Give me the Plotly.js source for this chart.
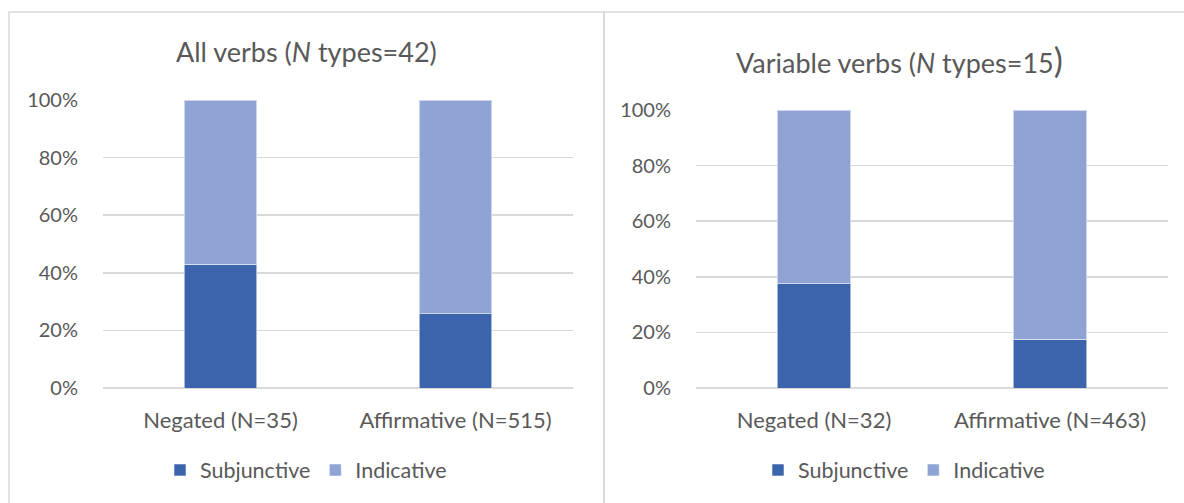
<!DOCTYPE html>
<html>
<head>
<meta charset="utf-8">
<script src="https://cdn.plot.ly/plotly-3.0.1.min.js"></script>
<style>
  html, body { margin: 0; padding: 0; background: #fff; }
  #chart { width: 1184px; height: 503px; }
</style>
</head>
<body>
<div id="chart"></div>
<script>
// Mood of complement verbs by polarity of the matrix clause (% of tokens)
const categoriesAll = ['Negated (N=35)', 'Affirmative (N=515)'];
const subjunctiveAll = [42.9, 25.8];
const indicativeAll = [57.1, 74.2];

const categoriesVariable = ['Negated (N=32)', 'Affirmative (N=463)'];
const subjunctiveVariable = [37.5, 17.5];
const indicativeVariable = [62.5, 82.5];

const titleAll = 'All verbs (<i>N</i> types=42)';
const titleVariable = 'Variable verbs (<i>N</i> types=15<span style="font-size:34px">)</span>';

const W = 1184, H = 503;
const px = v => v / W;
const py = v => (H - v) / H;

const FONT = 'Lato, "Liberation Sans", sans-serif';
const TEXT = '#595959';
const GRID = '#D9D9D9';
const C_SUB = '#3B64AD';
const C_IND = '#8FA4D5';

const edge = { color: 'rgba(255,255,255,0.55)', width: 1 };

const traces = [
  { type: 'bar', name: 'Subjunctive', x: categoriesAll, y: subjunctiveAll,
    marker: { color: C_SUB, line: edge }, xaxis: 'x', yaxis: 'y', legend: 'legend' },
  { type: 'bar', name: 'Indicative', x: categoriesAll, y: indicativeAll,
    marker: { color: C_IND, line: edge }, xaxis: 'x', yaxis: 'y', legend: 'legend' },
  { type: 'bar', name: 'Subjunctive', x: categoriesVariable, y: subjunctiveVariable,
    marker: { color: C_SUB, line: edge }, xaxis: 'x2', yaxis: 'y2', legend: 'legend2' },
  { type: 'bar', name: 'Indicative', x: categoriesVariable, y: indicativeVariable,
    marker: { color: C_IND, line: edge }, xaxis: 'x2', yaxis: 'y2', legend: 'legend2' }
];
traces.forEach(t => { t.hoverinfo = 'skip'; });

const xAxisBase = {
  showgrid: false, zeroline: false, showline: false,
  ticks: 'outside', ticklen: 13, tickcolor: 'rgba(0,0,0,0)',
  tickfont: { family: FONT, size: 22, color: TEXT },
  fixedrange: true
};
const yAxisBase = {
  range: [0, 100], dtick: 20, ticksuffix: '%',
  showgrid: true, gridcolor: GRID, gridwidth: 1.5,
  zeroline: true, zerolinecolor: GRID, zerolinewidth: 1.5,
  showline: false,
  ticks: 'outside', ticklen: 20, tickcolor: 'rgba(0,0,0,0)',
  tickfont: { family: FONT, size: 20, color: TEXT },
  fixedrange: true
};

const legendBase = {
  orientation: 'h', xanchor: 'center', yanchor: 'middle',
  font: { family: FONT, size: 21.5, color: TEXT },
  bgcolor: 'rgba(0,0,0,0)', itemclick: false, itemdoubleclick: false,
  traceorder: 'normal', itemwidth: 30
};

const layout = {
  width: W, height: H,
  margin: { l: 0, r: 0, t: 0, b: 0 },
  paper_bgcolor: '#fff', plot_bgcolor: 'rgba(0,0,0,0)',
  barmode: 'stack', bargap: 0.69,
  font: { family: FONT, color: TEXT },
  xaxis: Object.assign({}, xAxisBase, { domain: [px(103), px(573)], anchor: 'y' }),
  yaxis: Object.assign({}, yAxisBase, { domain: [py(388), py(100)], anchor: 'x' }),
  xaxis2: Object.assign({}, xAxisBase, { domain: [px(696), px(1168)], anchor: 'y2' }),
  yaxis2: Object.assign({}, yAxisBase, { domain: [py(388), py(110)], anchor: 'x2' }),
  legend: Object.assign({}, legendBase, { x: px(306), y: py(470) }),
  legend2: Object.assign({}, legendBase, { x: px(904), y: py(470) }),
  annotations: [
    { text: titleAll, xref: 'paper', yref: 'paper', x: px(307), y: py(52),
      xanchor: 'center', yanchor: 'middle', showarrow: false,
      font: { family: FONT, size: 27, color: TEXT } },
    { text: titleVariable, xref: 'paper', yref: 'paper', x: px(899), y: py(59),
      xanchor: 'center', yanchor: 'middle', showarrow: false,
      font: { family: FONT, size: 27, color: TEXT } }
  ],
  shapes: [
    { type: 'rect', xref: 'paper', yref: 'paper', x0: px(9), x1: px(604), y0: py(510), y1: py(12),
      line: { color: GRID, width: 1.5 }, fillcolor: 'rgba(0,0,0,0)', layer: 'below' },
    { type: 'rect', xref: 'paper', yref: 'paper', x0: px(604), x1: px(1195), y0: py(510), y1: py(12),
      line: { color: GRID, width: 1.5 }, fillcolor: 'rgba(0,0,0,0)', layer: 'below' }
  ]
};

Plotly.newPlot('chart', traces, layout, { staticPlot: true, displayModeBar: false });
</script>
</body>
</html>
